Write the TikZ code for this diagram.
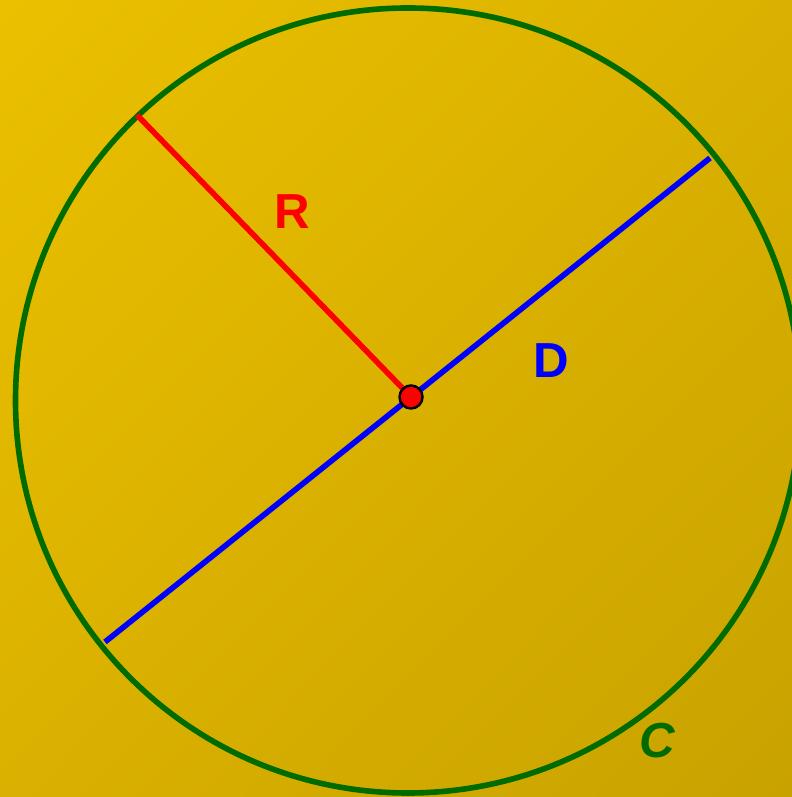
\documentclass[tikz,border=0pt]{standalone}
\usepackage{fontspec}
\setmainfont{Liberation Sans}
\usepackage{tikz}
\usetikzlibrary{shadings}

\definecolor{bgtop}{HTML}{EBC000}
\definecolor{bgmid}{HTML}{DAB100}
\definecolor{bgbot}{HTML}{C8A200}
\definecolor{circgreen}{HTML}{006C00}

\tikzset{
    seg/.style={line width=1.6pt},
    lbl/.style={font=\fontsize{14}{16}\selectfont\bfseries}
}

\begin{document}
\begin{tikzpicture}
    % Background
    \useasboundingbox (0,0) rectangle (7.92,7.97);
    \clip (0,0) rectangle (7.92,7.97);
    \shade[upper left=bgtop, upper right=bgmid, lower left=bgmid, lower right=bgbot] (0,0) rectangle (7.92,7.97);

    % Circle
    \draw[circgreen, seg] (4.08,3.965) circle (3.925);

    % End points
    \node (ctr) at (4.11,4.00) {};
    \coordinate (rend) at (1.37,6.82);
    \coordinate (dlow) at (1.05,1.55);
    \coordinate (dhigh) at (7.10,6.39);

    % Diameter and radius
    \draw[blue, seg] (dlow) -- (dhigh);
    \draw[red, seg] (rend) -- (ctr.center);
    \fill[red, draw=black, line width=0.7pt] (ctr.center) circle (0.115);

    % Labels
    \node[red, lbl] (labR) at (2.92,5.85) {R};
    \node[blue, lbl] (labD) at (5.51,4.36) {D};
    \node[circgreen, lbl] (labC) at (6.57,0.56) {\itshape C};
\end{tikzpicture}
\end{document}
